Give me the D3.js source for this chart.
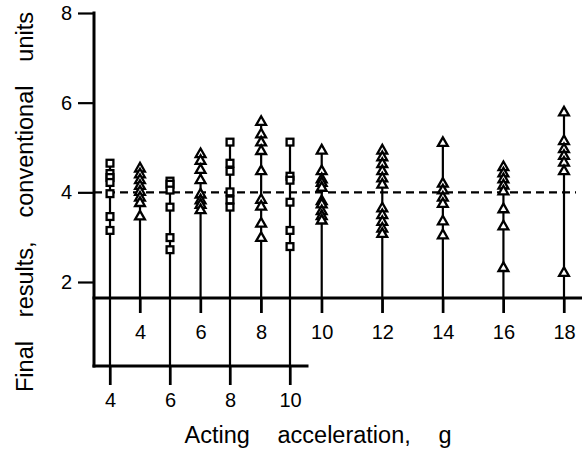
<!DOCTYPE html>
<html>
<head>
<meta charset="utf-8">
<script src="https://cdn.jsdelivr.net/npm/d3@7"></script>
<style>
  html, body { margin: 0; padding: 0; background: #fff; }
  svg { display: block; }
  text { font-family: "Liberation Sans", Arial, Helvetica, sans-serif; fill: #000; }
</style>
</head>
<body>
<svg id="chart" width="582" height="469"></svg>
<script>
// Final results vs acting acceleration: two series of measurements,
// each column of points hangs on a stem down to its own acceleration axis.
const yTicks = [2, 4, 6, 8];
const upperTicks = [4, 6, 8, 10, 12, 14, 16, 18];
const lowerTicks = [4, 6, 8, 10];
const meanLevel = 4;

// triangle series (upper acceleration axis)
const triangleG = [4, 6, 8, 10, 12, 14, 16, 18];
const triangleValues = [
  [4.55, 4.42, 4.29, 4.16, 4.03, 3.90, 3.78, 3.48],
  [4.87, 4.72, 4.52, 4.29, 3.97, 3.84, 3.74, 3.62],
  [5.59, 5.31, 5.13, 4.94, 4.49, 3.85, 3.70, 3.32, 3.00],
  [4.95, 4.49, 4.31, 4.23, 4.12, 3.82, 3.75, 3.60, 3.49, 3.39],
  [4.95, 4.80, 4.65, 4.49, 4.33, 4.19, 3.66, 3.51, 3.36, 3.21, 3.09],
  [5.12, 4.21, 4.06, 3.90, 3.76, 3.37, 3.06],
  [4.58, 4.44, 4.31, 4.17, 4.04, 3.64, 3.26, 2.33],
  [5.80, 5.16, 4.98, 4.83, 4.68, 4.49, 2.22]
];

// square series (lower acceleration axis)
const squareG = [4, 6, 8, 10];
const squareValues = [
  [4.65, 4.42, 4.33, 4.22, 3.97, 3.46, 3.15],
  [4.25, 4.18, 4.05, 3.67, 2.99, 2.72],
  [5.12, 4.65, 4.47, 4.01, 3.83, 3.67],
  [5.12, 4.36, 4.27, 3.78, 3.15, 2.79]
];

const svg = d3.select("#chart");
const W = 582;
const axisX = 94, upperY = 298, lowerY = 366, lowerRight = 307;
const upperTick = 15, lowerTick = 19, yTick = 16;
const lineW = 2.2;

const y = d3.scaleLinear().domain([2, 8]).range([282, 13]);
const xUp = d3.scaleLinear().domain([4, 18]).range([140, 564]);
const xLow = d3.scaleLinear().domain([4, 10]).range([110, 290]);

// mean level
svg.append("line")
  .attr("x1", axisX).attr("x2", 576)
  .attr("y1", y(meanLevel)).attr("y2", y(meanLevel))
  .attr("stroke", "#000").attr("stroke-width", 2.4)
  .attr("stroke-dasharray", "8,5");

// stems
svg.append("g").selectAll("line").data(squareG).join("line")
  .attr("x1", d => xLow(d)).attr("x2", d => xLow(d))
  .attr("y1", (d, i) => y(d3.max(squareValues[i])))
  .attr("y2", lowerY + lowerTick)
  .attr("stroke", "#000").attr("stroke-width", lineW);

svg.append("g").selectAll("line").data(triangleG).join("line")
  .attr("x1", d => xUp(d)).attr("x2", d => xUp(d))
  .attr("y1", (d, i) => y(d3.max(triangleValues[i])))
  .attr("y2", upperY + upperTick)
  .attr("stroke", "#000").attr("stroke-width", lineW);

// axes
function styleAxis(g) {
  g.select(".domain").remove();
  g.selectAll(".tick line").attr("stroke", "#000").attr("stroke-width", lineW);
  g.selectAll(".tick text").attr("font-size", 20).attr("fill", "#000");
}

svg.append("g").attr("transform", `translate(${axisX},0)`)
  .call(d3.axisLeft(y).tickValues(yTicks).tickSize(yTick).tickPadding(6).tickFormat(d3.format("d")))
  .call(styleAxis);

svg.append("g").attr("transform", `translate(0,${upperY})`)
  .call(d3.axisBottom(xUp).tickValues(upperTicks).tickSize(upperTick).tickPadding(12).tickFormat(d3.format("d")))
  .call(styleAxis);

svg.append("g").attr("transform", `translate(0,${lowerY})`)
  .call(d3.axisBottom(xLow).tickValues(lowerTicks).tickSize(lowerTick).tickPadding(8).tickFormat(d3.format("d")))
  .call(styleAxis);

const axisLines = svg.append("g").attr("stroke", "#000").attr("stroke-width", 3)
  .attr("stroke-linecap", "square");
axisLines.append("line").attr("x1", axisX).attr("x2", axisX).attr("y1", y(8)).attr("y2", lowerY);
axisLines.append("line").attr("x1", axisX).attr("x2", W).attr("y1", upperY).attr("y2", upperY);
axisLines.append("line").attr("x1", axisX).attr("x2", lowerRight).attr("y1", lowerY).attr("y2", lowerY);

// markers
const squarePts = squareG.flatMap((g, i) => squareValues[i].map(v => ({ g, v })));
const trianglePts = triangleG.flatMap((g, i) => triangleValues[i].map(v => ({ g, v })));
const s = 6.8;

svg.append("g").selectAll("rect").data(squarePts).join("rect")
  .attr("x", d => xLow(d.g) - s / 2).attr("y", d => y(d.v) - s / 2)
  .attr("width", s).attr("height", s)
  .attr("fill", "#fff").attr("stroke", "#000").attr("stroke-width", 2.3);

const tri = "M0,-4.8L4.9,3.8L-4.9,3.8Z";
svg.append("g").selectAll("path").data(trianglePts).join("path")
  .attr("transform", d => `translate(${xUp(d.g)},${y(d.v)})`)
  .attr("d", tri)
  .attr("fill", "#fff").attr("stroke", "#000").attr("stroke-width", 2.3)
  .attr("stroke-linejoin", "miter");

// titles, with the wide word gaps of the original typesetting
function spread(sel, target) {
  const words = sel.text().split(" ").length - 1;
  const natural = sel.node().getComputedTextLength();
  sel.attr("word-spacing", Math.max(0, (target - natural) / words));
}

const xt = svg.append("text")
  .attr("x", 318).attr("y", 443)
  .attr("text-anchor", "middle").attr("font-size", 23.5)
  .text("Acting acceleration, g");
spread(xt, 267);

const yt = svg.append("text")
  .attr("transform", "translate(33,202) rotate(-90)")
  .attr("text-anchor", "middle").attr("font-size", 23.5)
  .text("Final results, conventional units");
spread(yt, 380);
</script>
</body>
</html>
